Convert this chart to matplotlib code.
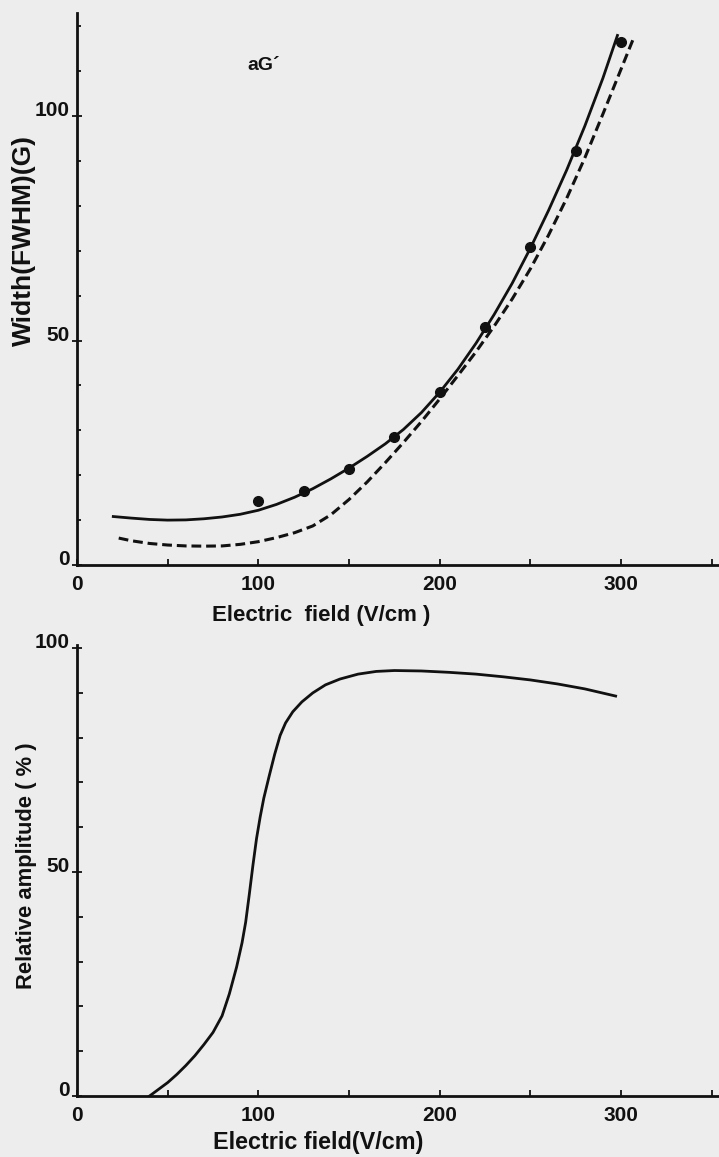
import numpy as np
import matplotlib
matplotlib.use("Agg")
import matplotlib.pyplot as plt
from matplotlib.ticker import MultipleLocator, FixedLocator

# ---- width vs field (upper panel) ----
dot_field = [100, 125, 150, 175, 200, 225, 250, 275, 300]
dot_width = [14.3, 16.5, 21.4, 28.5, 38.5, 53.0, 70.8, 92.2, 116.5]

fit_field = [20, 30, 40, 50, 60, 70, 80, 90, 100, 110, 120, 130, 140, 150,
             160, 170, 180, 190, 200, 210, 220, 230, 240, 250, 260, 270,
             280, 290, 298]
fit_width = [10.8, 10.45, 10.15, 10.0, 10.05, 10.3, 10.7, 11.3, 12.2, 13.5,
             15.1, 17.0, 19.2, 21.6, 24.2, 27.0, 30.2, 34.0, 38.5, 43.6,
             49.4, 55.8, 62.8, 70.6, 79.0, 88.0, 97.8, 108.5, 118.0]

calc_field = [23, 30, 40, 50, 60, 70, 80, 90, 100, 110, 120, 130, 140, 150,
              160, 170, 180, 190, 200, 210, 220, 230, 240, 250, 260, 270,
              280, 290, 300, 307]
calc_width = [6.0, 5.4, 4.8, 4.45, 4.25, 4.2, 4.25, 4.6, 5.2, 6.1, 7.2, 8.7,
              11.2, 14.6, 18.5, 22.8, 27.3, 32.0, 37.0, 42.2, 47.5, 53.2,
              59.3, 66.0, 73.5, 81.7, 90.7, 100.5, 110.5, 117.5]

# ---- relative amplitude vs field (lower panel) ----
amp_field = [40, 45, 50, 55, 60, 65, 70, 75, 80, 84, 88, 91, 93, 95, 97, 99,
             101, 103, 106, 109, 112, 115, 119, 124, 130, 137, 145, 155, 165,
             175, 190, 205, 220, 235, 250, 265, 280, 297]
amp_value = [0, 1.5, 3, 4.8, 6.8, 9, 11.5, 14.2, 17.9, 22.8, 28.8, 34.2,
             38.8, 45, 51.5, 57.5, 62.3, 66.5, 71.5, 76.3, 80.5, 83.3, 85.8,
             88, 90, 91.8, 93.1, 94.2, 94.8, 95, 94.9, 94.6, 94.2, 93.6,
             92.9, 92.0, 90.9, 89.3]

x_ticks = [0, 100, 200, 300]
x_tick_labels = ["0", "100", "200", "300"]
y_ticks = [0, 50, 100]
y_tick_labels = ["0", "50", "100"]

BG = "#ededed"
INK = "#111111"
FONT = "Liberation Sans"

plt.rcParams["font.family"] = [FONT, "DejaVu Sans"]

W, H = 719, 1157
fig = plt.figure(figsize=(W / 100, H / 100), dpi=100, facecolor=BG)


def px_axes(left, bottom, right, top):
    return fig.add_axes([left / W, 1 - bottom / H, (right - left) / W,
                         (bottom - top) / H])


def style(ax, ymax, minor_len):
    ax.set_facecolor(BG)
    for side in ("top", "right"):
        ax.spines[side].set_visible(False)
    for side in ("left", "bottom"):
        ax.spines[side].set_linewidth(2.0)
        ax.spines[side].set_color(INK)
    ax.set_xlim(0, 354)
    ax.set_ylim(0, ymax)
    ax.xaxis.set_major_locator(FixedLocator(x_ticks))
    ax.set_xticklabels(x_tick_labels)
    ax.xaxis.set_minor_locator(MultipleLocator(50))
    ax.yaxis.set_major_locator(FixedLocator(y_ticks))
    ax.set_yticklabels(y_tick_labels)
    ax.yaxis.set_minor_locator(MultipleLocator(10))
    ax.tick_params(axis="x", which="both", direction="in", length=4,
                   width=1.3, color=INK, pad=7, labelsize=15,
                   labelcolor=INK)
    ax.tick_params(axis="y", which="major", direction="inout", length=7,
                   width=1.3, color=INK, pad=2, labelsize=15,
                   labelcolor=INK)
    ax.tick_params(axis="y", which="minor", direction="in",
                   length=minor_len, width=1.3, color=INK)
    for lab in ax.get_yticklabels():
        lab.set_verticalalignment("baseline")
    for lab in ax.get_xticklabels() + ax.get_yticklabels():
        lab.set_fontweight("bold")


# upper panel
ax1 = px_axes(77, 565, 719, 13)
style(ax1, 123, 3)
ax1.plot(fit_field, fit_width, color=INK, lw=2.0, solid_joinstyle="round")
ax1.plot(calc_field, calc_width, color=INK, lw=2.2, dashes=(3.2, 1.6))
ax1.plot(dot_field, dot_width, "o", color=INK, ms=7)
ax1.text(0.29, 0.905, "aG\u00b4", transform=ax1.transAxes, fontsize=14,
         fontweight="bold", color=INK, ha="center", va="center")
ax1.text(-0.0825, 0.587, "Width(FWHM)(G)", transform=ax1.transAxes,
         rotation=90, fontsize=19, fontweight="bold", color=INK,
         ha="center", va="center")
ax1.text(0.38, -0.092, "Electric  field (V/cm )", transform=ax1.transAxes,
         fontsize=16, fontweight="bold", color=INK, ha="center",
         va="center")

# lower panel
ax2 = px_axes(77, 1096, 719, 645)
style(ax2, 100.7, 4)
ax2.plot(amp_field, amp_value, color=INK, lw=2.0, solid_joinstyle="round")
ax2.text(-0.078, 0.51, "Relative amplitude ( % )", transform=ax2.transAxes,
         rotation=90, fontsize=15.8, fontweight="bold", color=INK,
         ha="center", va="center")
ax2.text(0.375, -0.102, "Electric field(V/cm)", transform=ax2.transAxes,
         fontsize=16.8, fontweight="bold", color=INK, ha="center",
         va="center")

fig.savefig("out.png", dpi=100, facecolor=BG)
